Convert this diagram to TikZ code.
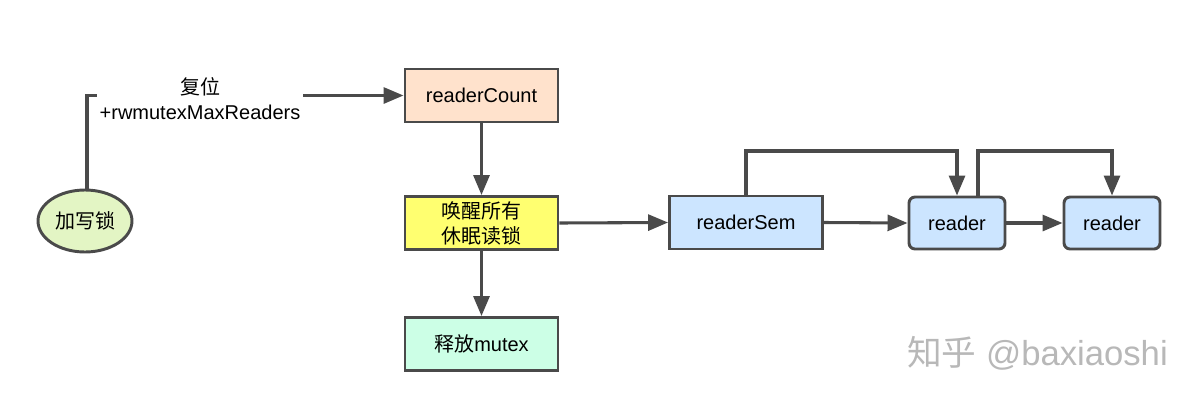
\documentclass[tikz,border=0pt]{standalone}
\usepackage{fontspec}
\setmainfont{Liberation Sans}
\newfontfamily\cjk{Noto Sans CJK SC}
\usetikzlibrary{arrows.meta,shapes.geometric}
\definecolor{edge}{HTML}{4A4A4A}
\definecolor{peach}{HTML}{FFE2CC}
\definecolor{yel}{HTML}{FFFF70}
\definecolor{mint}{HTML}{CCFFE6}
\definecolor{sky}{HTML}{CCE5FF}
\definecolor{leaf}{HTML}{E3F5C4}
\tikzset{
  box/.style={draw=edge, line width=2.2pt, minimum width=114.75pt, minimum height=39.75pt, inner sep=0pt, align=center, font=\fontsize{15}{18.75}\selectfont},
  bluebox/.style={box, fill=sky},
  readerbox/.style={box, fill=sky, rounded corners=4.5pt, minimum width=72pt, minimum height=39pt},
  conn/.style={draw=edge, line width=2.3pt, -{Triangle[length=15pt,width=12pt]}},
  plain/.style={draw=edge, line width=2.3pt}
}
\begin{document}
\begin{tikzpicture}[x=0.75pt,y=-0.75pt]
\useasboundingbox (0,0) rectangle (1200,404);
\node[box, fill=peach] (rc) at (481.5,95.5) {readerCount};
\node[box, fill=yel] (wake) at (481.5,223) {{\cjk 唤醒所有}\\{\cjk 休眠读锁}};
\node[box, fill=mint] (rel) at (481.5,344) {{\cjk 释放}mutex};
\node[bluebox] (sem) at (746,222.5) {readerSem};
\node[readerbox] (r1) at (957,223) {reader};
\node[readerbox] (r2) at (1112,223) {reader};
\node[ellipse, draw=edge, line width=2.2pt, fill=leaf, minimum width=70.5pt, minimum height=46.5pt, inner sep=0pt, font=\cjk\fontsize{15}{18}\selectfont] (lock) at (85,221) {加写锁};

\coordinate (topbend) at (87,96);
\path[conn] (lock.north -| topbend) |- (rc.west);
\node[fill=white, inner sep=0pt, align=center, minimum width=154pt, font=\fontsize{15}{18.75}\selectfont] (lbl) at (200,99) {{\cjk 复位}\\+rwmutexMaxReaders};

\path[conn] (rc.south) -- (wake.north);
\path[conn] (wake.south) -- (rel.north);
\path[conn] (wake.east) -- (sem.west);
\path[conn] (sem.east) -- (r1.west);
\path[conn] (r1.east) -- (r2.west);

\coordinate (loopy) at (0,151);
\path[conn] (sem.north) |- (loopy -| r1.north) -- (r1.north);
\coordinate (r1out) at (978,0);
\path[conn] (r1.north -| r1out) |- (loopy -| r2.north) -- (r2.north);

\node[text=black!28, font=\fontsize{26}{30}\selectfont, anchor=east, inner sep=0pt] (wm) at (1168,353) {{\cjk 知乎} @baxiaoshi};
\end{tikzpicture}
\end{document}
